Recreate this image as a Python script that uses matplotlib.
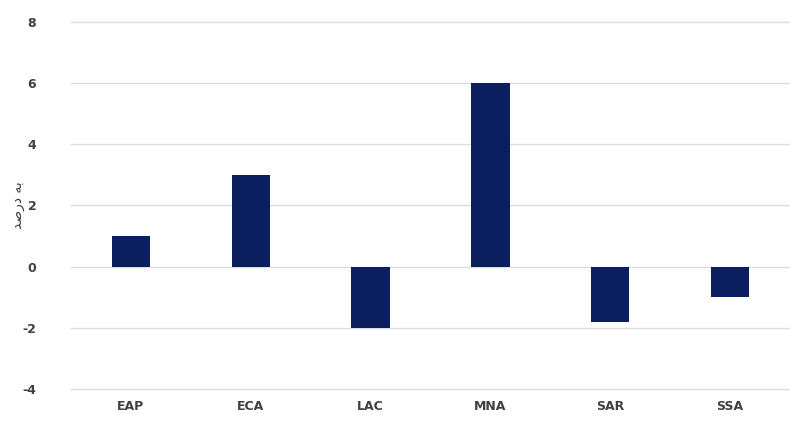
import matplotlib
matplotlib.use("Agg")
import matplotlib.pyplot as plt

categories = ["EAP", "ECA", "LAC", "MNA", "SAR", "SSA"]
values = [1.0, 3.0, -2.0, 6.0, -1.8, -1.0]
yticks = [-4, -2, 0, 2, 4, 6, 8]
# "به درصد" in shaped presentation forms, visual order
ylabel = "\uFEAA\uFEBB\uFEAD\uFEA9 \uFEEA\uFE91"

plt.rcParams['font.family'] = ['DejaVu Sans']
fig = plt.figure(figsize=(7.9, 4.23), dpi=100)
ax = fig.add_axes([0.0899, 0.0804, 0.9101, 0.868])

x = list(range(len(categories)))
ax.bar(x, values, width=0.32, color="#0b1f5e", zorder=3)

ax.set_xlim(-0.5, len(categories) - 0.5)
ax.set_ylim(-4, 8)
ax.set_yticks(yticks)
ax.set_yticklabels([str(t) for t in yticks])
ax.set_xticks(x)
ax.set_xticklabels(categories)
ax.grid(axis="y", color="#dcdcdc", linewidth=1.0, zorder=0)
for gl in ax.get_ygridlines():
    gl.set_clip_on(False)
for s in ax.spines.values():
    s.set_visible(False)
ax.tick_params(axis="both", length=0, labelsize=9, labelcolor="#404040")
ax.tick_params(axis="y", pad=25)
ax.tick_params(axis="x", pad=8)
for lab in ax.get_xticklabels() + ax.get_yticklabels():
    lab.set_fontweight("bold")
ax.set_ylabel(ylabel, fontsize=10, color="#404040")
ax.yaxis.set_label_coords(-0.074, 0.5)
ax.yaxis.label.set_va("center")

fig.savefig("out.png", dpi=100)
